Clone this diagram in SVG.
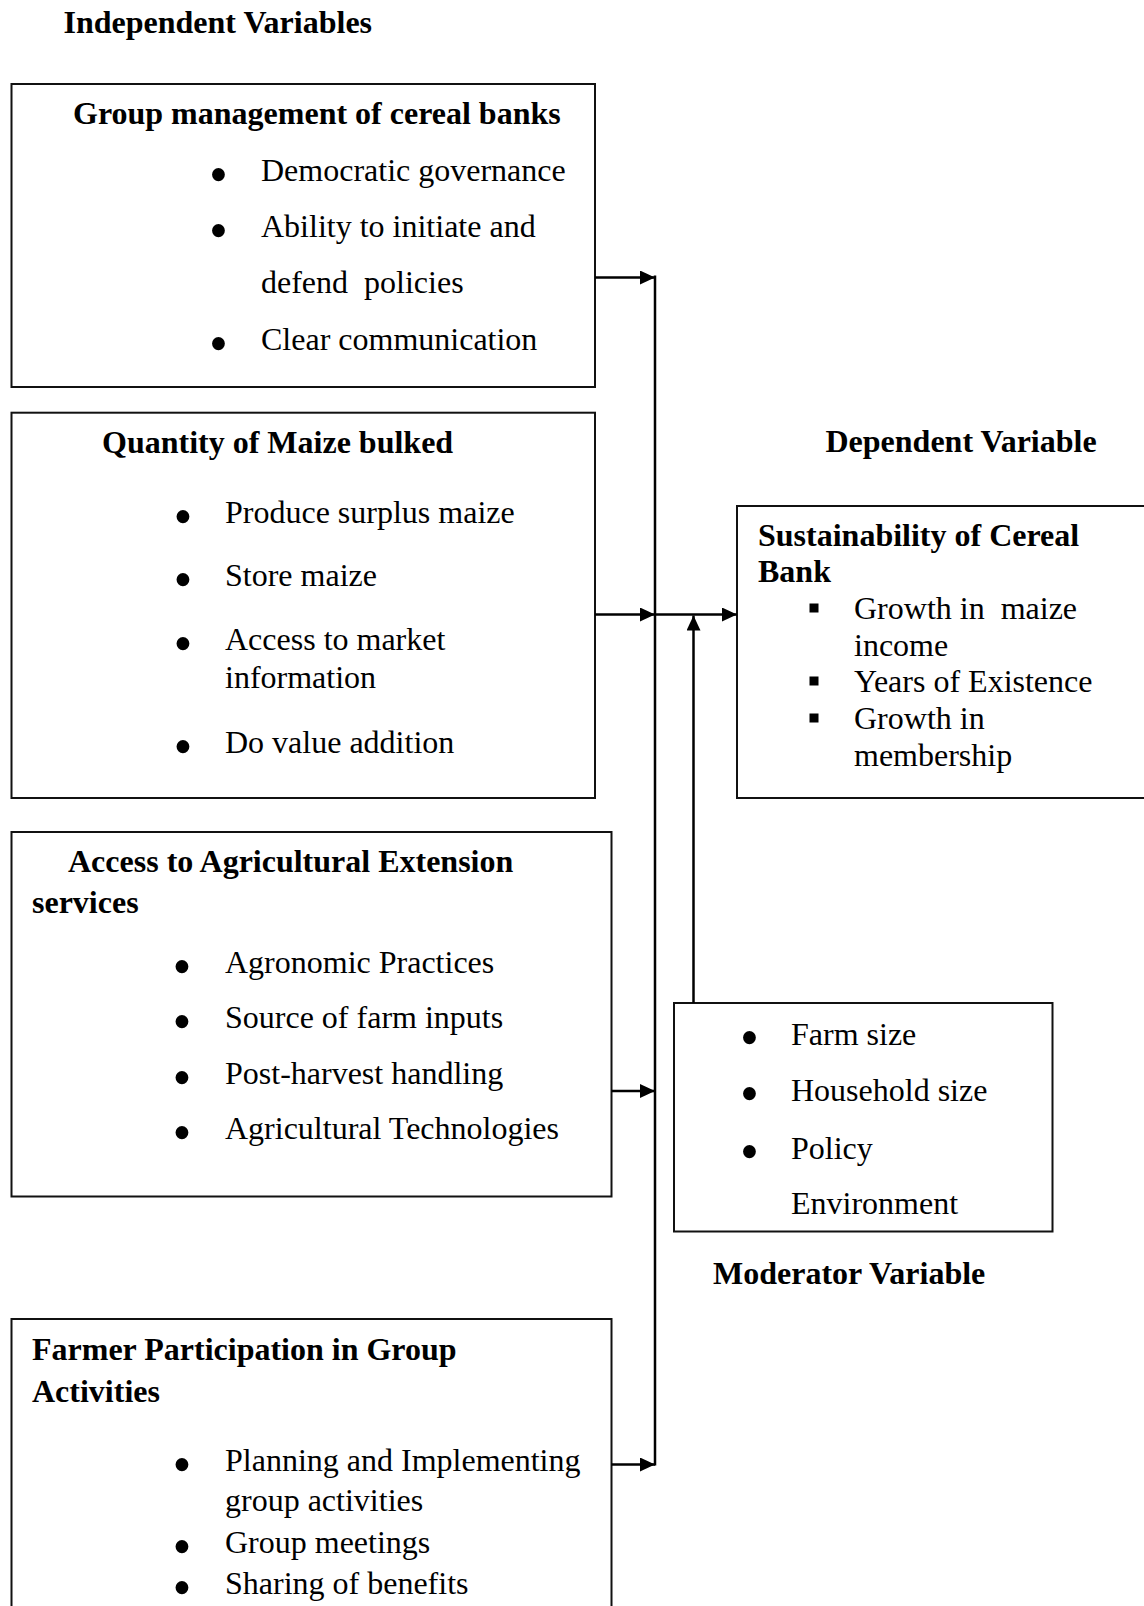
<svg xmlns="http://www.w3.org/2000/svg" width="1144" height="1606" viewBox="0 0 1144 1606">
<style>
text{font-family:"Liberation Serif","Times New Roman",serif;font-size:32px;fill:#000}
.b{font-weight:bold}
text.bul{text-anchor:middle;font-size:54px}
.box{fill:none;stroke:#111;stroke-width:2}
.con{fill:none;stroke:#000;stroke-width:2.5}
</style>
<defs>
<marker id="ah" markerUnits="userSpaceOnUse" markerWidth="16" markerHeight="16" refX="15" refY="7" orient="auto">
<path d="M0,0 L15,7 L0,14 z" fill="#000"/>
</marker>
</defs>
<rect width="1144" height="1606" fill="#fff"/>
<text class="b" x="63.5" y="33">Independent Variables</text>
<text class="b" x="825.5" y="452">Dependent Variable</text>
<text class="b" x="713" y="1284">Moderator Variable</text>

<g id="group-management">
<rect class="box" x="11.5" y="84" width="583.5" height="303"/>
<text class="b" x="73" y="124">Group management of cereal banks</text>
<text class="bul" x="218.5" y="193">•</text><text x="261" y="181">Democratic governance</text>
<text class="bul" x="218.5" y="249">•</text><text x="261" y="237">Ability to initiate and</text>
<text x="261" y="293" xml:space="preserve">defend  policies</text>
<text class="bul" x="218.5" y="362">•</text><text x="261" y="350">Clear communication</text>
</g>

<g id="quantity-maize">
<rect class="box" x="11.5" y="412.7" width="583.5" height="385.3"/>
<text class="b" x="102" y="453">Quantity of Maize bulked</text>
<text class="bul" x="183" y="535">•</text><text x="225" y="523">Produce surplus maize</text>
<text class="bul" x="183" y="598">•</text><text x="225" y="586">Store maize</text>
<text class="bul" x="183" y="662">•</text><text x="225" y="650">Access to market</text>
<text x="225" y="688">information</text>
<text class="bul" x="183" y="765">•</text><text x="225" y="753">Do value addition</text>
</g>

<g id="extension-services">
<rect class="box" x="11.5" y="832" width="600" height="364.5"/>
<text class="b" x="68" y="872">Access to Agricultural Extension</text>
<text class="b" x="32" y="913">services</text>
<text class="bul" x="182" y="985">•</text><text x="225" y="973">Agronomic Practices</text>
<text class="bul" x="182" y="1040">•</text><text x="225" y="1028">Source of farm inputs</text>
<text class="bul" x="182" y="1096">•</text><text x="225" y="1084">Post-harvest handling</text>
<text class="bul" x="182" y="1151">•</text><text x="225" y="1139">Agricultural Technologies</text>
</g>

<g id="farmer-participation">
<rect class="box" x="11.5" y="1319" width="600" height="400"/>
<text class="b" x="32" y="1360">Farmer Participation in Group</text>
<text class="b" x="32" y="1402">Activities</text>
<text class="bul" x="182" y="1483">•</text><text x="225" y="1471">Planning and Implementing</text>
<text x="225" y="1511">group activities</text>
<text class="bul" x="182" y="1565">•</text><text x="225" y="1553">Group meetings</text>
<text class="bul" x="182" y="1606">•</text><text x="225" y="1594">Sharing of benefits</text>
</g>

<g id="sustainability">
<rect class="box" x="737" y="506" width="420" height="292"/>
<text class="b" x="758" y="546">Sustainability of Cereal</text>
<text class="b" x="758" y="582">Bank</text>
<rect x="809.5" y="603.5" width="9" height="9" fill="#000"/><text x="854" y="619" xml:space="preserve">Growth in  maize</text>
<text x="854" y="656">income</text>
<rect x="809.5" y="676.5" width="9" height="9" fill="#000"/><text x="854" y="692">Years of Existence</text>
<rect x="809.5" y="713.5" width="9" height="9" fill="#000"/><text x="854" y="729">Growth in</text>
<text x="854" y="766">membership</text>
</g>

<g id="moderator">
<rect class="box" x="674" y="1003" width="378.5" height="228.5"/>
<text class="bul" x="749.5" y="1056">•</text><text x="791" y="1045">Farm size</text>
<text class="bul" x="749.5" y="1112">•</text><text x="791" y="1101">Household size</text>
<text class="bul" x="749.5" y="1170">•</text><text x="791" y="1159">Policy</text>
<text x="791" y="1214">Environment</text>
</g>

<g id="connectors">
<path class="con" d="M655,275.5 V1465.5"/>
<path class="con" d="M595,277.5 H655" marker-end="url(#ah)"/>
<path class="con" d="M595,614.5 H655" marker-end="url(#ah)"/>
<path class="con" d="M655,614.5 H737" marker-end="url(#ah)"/>
<path class="con" d="M611.5,1091 H655" marker-end="url(#ah)"/>
<path class="con" d="M611.5,1464.5 H655" marker-end="url(#ah)"/>
<path class="con" d="M693.5,1003 V615.5" marker-end="url(#ah)"/>
</g>
</svg>
